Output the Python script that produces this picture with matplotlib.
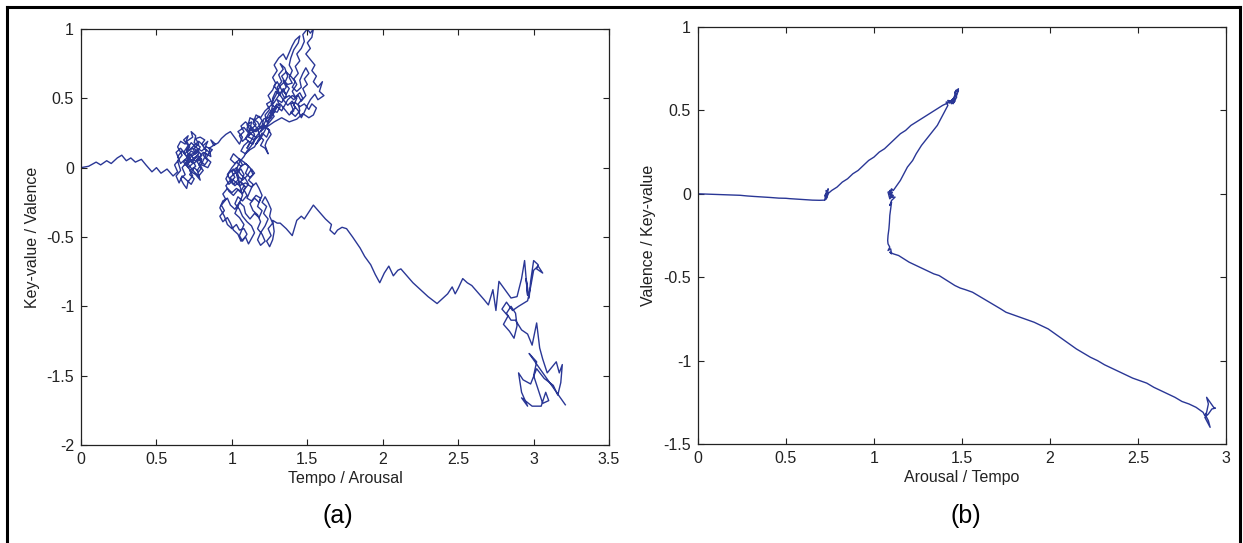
import matplotlib.pyplot as plt
from matplotlib.lines import Line2D

plt.rcParams['font.family'] = ['Liberation Sans', 'DejaVu Sans']

LINE_COLOR = '#2a3796'

# ---- panel (a): tempo / arousal vs key-value / valence
walk_a_start = [(0.00, 0.00), (0.05, 0.01), (0.10, 0.04), (0.13, 0.02), (0.17, 0.05), (0.20, 0.03),
                (0.24, 0.07), (0.27, 0.09), (0.30, 0.05), (0.33, 0.07), (0.36, 0.04), (0.40, 0.06),
                (0.43, 0.02), (0.47, -0.03), (0.50, 0.00), (0.53, -0.04), (0.57, -0.01), (0.61, -0.06),
                (0.64, -0.03)]
walk_a_cluster1 = [(0.62, 0.02), (0.65, 0.06), (0.63, 0.11), (0.66, 0.14), (0.69, 0.10), (0.72, 0.15),
                   (0.70, 0.19), (0.74, 0.22), (0.73, 0.26), (0.76, 0.23), (0.75, 0.18), (0.79, 0.15),
                   (0.77, 0.11), (0.73, 0.08), (0.70, 0.04), (0.67, 0.00), (0.69, -0.05), (0.66, -0.08),
                   (0.68, -0.12), (0.70, -0.15), (0.71, -0.10), (0.74, -0.06), (0.72, -0.02), (0.76, 0.01),
                   (0.74, 0.05), (0.77, 0.09), (0.80, 0.06), (0.78, 0.02), (0.81, -0.02), (0.78, -0.06),
                   (0.75, -0.03), (0.72, 0.01), (0.69, 0.06), (0.66, 0.03), (0.64, 0.08), (0.67, 0.12),
                   (0.70, 0.08), (0.73, 0.12), (0.76, 0.10), (0.74, 0.14), (0.71, 0.12), (0.75, 0.16),
                   (0.78, 0.19), (0.81, 0.16), (0.84, 0.19), (0.82, 0.14), (0.85, 0.11), (0.83, 0.07),
                   (0.86, 0.04), (0.84, 0.00), (0.80, 0.02), (0.79, 0.08), (0.76, 0.05), (0.72, 0.06),
                   (0.70, 0.13), (0.73, 0.18), (0.77, 0.14), (0.80, 0.12), (0.83, 0.15), (0.87, 0.13)]
walk_a_cluster1b = [(0.84, 0.09), (0.81, 0.11), (0.78, 0.07), (0.75, 0.03), (0.72, 0.05), (0.69, 0.02),
                    (0.71, 0.07), (0.68, 0.11), (0.71, 0.16), (0.68, 0.20), (0.71, 0.23), (0.69, 0.17),
                    (0.66, 0.19), (0.64, 0.15), (0.67, 0.09), (0.64, 0.05), (0.66, -0.02), (0.63, -0.06),
                    (0.65, -0.11), (0.67, -0.06), (0.70, -0.09), (0.73, -0.12), (0.75, -0.08), (0.72, -0.05),
                    (0.75, 0.00), (0.78, -0.03), (0.80, 0.00), (0.77, 0.04), (0.80, 0.09), (0.77, 0.13),
                    (0.74, 0.10), (0.71, 0.09), (0.74, 0.03), (0.71, 0.00), (0.68, 0.04), (0.72, 0.10),
                    (0.75, 0.06), (0.78, 0.10), (0.75, 0.14), (0.78, 0.17), (0.76, 0.21), (0.79, 0.22),
                    (0.82, 0.20), (0.80, 0.17), (0.83, 0.12), (0.81, 0.09), (0.84, 0.05), (0.82, 0.02),
                    (0.79, 0.05), (0.76, 0.08), (0.73, 0.05), (0.70, 0.02), (0.73, -0.03), (0.76, -0.05),
                    (0.79, -0.09), (0.77, -0.02), (0.80, 0.03), (0.83, 0.10), (0.86, 0.08), (0.85, 0.14),
                    (0.89, 0.17), (0.86, 0.20), (0.88, 0.16), (0.91, 0.18), (0.93, 0.21), (0.96, 0.24),
                    (0.99, 0.26), (1.01, 0.23), (1.03, 0.20)]
walk_a_cluster2 = [(1.05, 0.17), (1.07, 0.22), (1.04, 0.26), (1.08, 0.29), (1.11, 0.25), (1.09, 0.21),
                   (1.12, 0.18), (1.10, 0.14), (1.13, 0.20), (1.15, 0.24), (1.13, 0.28), (1.16, 0.31),
                   (1.14, 0.35), (1.17, 0.33), (1.19, 0.29), (1.16, 0.26), (1.12, 0.27), (1.10, 0.31),
                   (1.13, 0.33), (1.11, 0.22), (1.15, 0.20), (1.18, 0.23), (1.21, 0.20), (1.19, 0.16),
                   (1.22, 0.14), (1.24, 0.10), (1.22, 0.16), (1.23, 0.19), (1.26, 0.24), (1.24, 0.28),
                   (1.21, 0.31), (1.19, 0.26), (1.22, 0.29), (1.25, 0.27), (1.23, 0.22), (1.20, 0.25),
                   (1.17, 0.19), (1.15, 0.15), (1.12, 0.13), (1.09, 0.10), (1.06, 0.12), (1.08, 0.16),
                   (1.11, 0.19), (1.14, 0.17), (1.16, 0.22), (1.13, 0.24), (1.10, 0.28), (1.12, 0.36),
                   (1.15, 0.34), (1.18, 0.37), (1.20, 0.34), (1.18, 0.30), (1.15, 0.27), (1.12, 0.30),
                   (1.09, 0.33), (1.06, 0.30), (1.08, 0.26), (1.05, 0.23), (1.07, 0.19), (1.10, 0.22),
                   (1.14, 0.26), (1.18, 0.28), (1.21, 0.31), (1.23, 0.35), (1.26, 0.38), (1.28, 0.42),
                   (1.30, 0.46)]
walk_a_band = [(1.28, 0.43), (1.25, 0.40), (1.23, 0.36), (1.21, 0.35), (1.20, 0.30), (1.23, 0.30),
               (1.25, 0.33), (1.28, 0.37), (1.26, 0.41), (1.30, 0.40), (1.32, 0.44), (1.30, 0.49),
               (1.33, 0.47), (1.36, 0.52), (1.34, 0.57), (1.31, 0.52), (1.28, 0.47), (1.25, 0.44),
               (1.22, 0.41), (1.19, 0.36), (1.16, 0.38), (1.14, 0.32), (1.17, 0.28), (1.19, 0.21),
               (1.16, 0.17), (1.19, 0.21), (1.22, 0.27), (1.25, 0.36), (1.27, 0.45)]
walk_a_cluster4 = [(1.27, 0.50), (1.29, 0.55), (1.32, 0.52), (1.30, 0.58), (1.33, 0.62), (1.31, 0.67),
                   (1.34, 0.71), (1.32, 0.75), (1.35, 0.72), (1.37, 0.66), (1.35, 0.61), (1.38, 0.57),
                   (1.36, 0.53), (1.33, 0.56), (1.30, 0.62), (1.28, 0.59), (1.31, 0.54), (1.34, 0.49),
                   (1.37, 0.45), (1.40, 0.48), (1.42, 0.43), (1.39, 0.40), (1.42, 0.37), (1.45, 0.41),
                   (1.44, 0.46), (1.47, 0.50), (1.45, 0.54), (1.42, 0.51), (1.40, 0.55), (1.43, 0.60),
                   (1.41, 0.64), (1.44, 0.68), (1.42, 0.73), (1.45, 0.77), (1.43, 0.82), (1.46, 0.86),
                   (1.48, 0.91), (1.47, 0.96), (1.50, 1.00), (1.52, 0.97), (1.54, 1.00), (1.53, 0.94),
                   (1.50, 0.90), (1.52, 0.86), (1.49, 0.82), (1.52, 0.78), (1.55, 0.74), (1.53, 0.70),
                   (1.56, 0.66), (1.54, 0.62), (1.57, 0.58), (1.60, 0.62), (1.58, 0.55), (1.61, 0.52),
                   (1.57, 0.49), (1.55, 0.53), (1.52, 0.49), (1.50, 0.45), (1.48, 0.40), (1.46, 0.36),
                   (1.44, 0.41), (1.41, 0.45), (1.43, 0.50), (1.40, 0.52), (1.37, 0.49), (1.35, 0.45),
                   (1.33, 0.41), (1.30, 0.44), (1.28, 0.40), (1.26, 0.36), (1.23, 0.33)]
walk_a_cluster4b = [(1.22, 0.38), (1.25, 0.42), (1.23, 0.46), (1.26, 0.48), (1.24, 0.52), (1.27, 0.56),
                    (1.29, 0.61), (1.27, 0.65), (1.30, 0.70), (1.28, 0.74), (1.31, 0.79), (1.34, 0.82),
                    (1.36, 0.78), (1.38, 0.83), (1.40, 0.88), (1.42, 0.92), (1.45, 0.95), (1.44, 0.90),
                    (1.41, 0.85), (1.39, 0.79), (1.38, 0.74), (1.40, 0.70), (1.38, 0.65), (1.40, 0.61),
                    (1.37, 0.60), (1.34, 0.63), (1.36, 0.58), (1.33, 0.54), (1.35, 0.50), (1.38, 0.52),
                    (1.41, 0.49), (1.44, 0.52), (1.46, 0.48), (1.49, 0.52), (1.47, 0.57), (1.50, 0.60),
                    (1.48, 0.64), (1.51, 0.68), (1.49, 0.72), (1.47, 0.68), (1.45, 0.63), (1.46, 0.58),
                    (1.43, 0.55), (1.40, 0.58), (1.42, 0.62), (1.39, 0.66), (1.36, 0.69), (1.33, 0.66),
                    (1.35, 0.62), (1.32, 0.59), (1.29, 0.52), (1.26, 0.46), (1.29, 0.43), (1.32, 0.46),
                    (1.35, 0.42), (1.38, 0.38), (1.41, 0.41), (1.39, 0.46), (1.42, 0.47), (1.45, 0.44),
                    (1.48, 0.46), (1.51, 0.42), (1.53, 0.46), (1.56, 0.43), (1.54, 0.38), (1.51, 0.36),
                    (1.47, 0.39), (1.43, 0.35), (1.38, 0.33), (1.33, 0.36), (1.28, 0.33), (1.24, 0.30),
                    (1.21, 0.29), (1.18, 0.25), (1.15, 0.21), (1.13, 0.16), (1.10, 0.12), (1.08, 0.08),
                    (1.05, 0.04)]
walk_a_cluster3 = [(1.02, -0.04), (0.99, -0.07), (1.01, -0.12), (1.04, -0.09), (1.03, -0.04), (1.06, -0.01),
                   (1.08, -0.05), (1.06, -0.10), (1.09, -0.14), (1.07, -0.19), (1.04, -0.16), (1.01, -0.20),
                   (0.98, -0.17), (0.96, -0.13), (0.99, -0.09), (0.97, -0.05), (1.00, 0.00), (1.03, 0.04),
                   (1.06, 0.01), (1.09, 0.03), (1.12, 0.00), (1.14, -0.05), (1.11, -0.09), (1.14, -0.12),
                   (1.12, -0.17), (1.10, -0.22), (1.13, -0.24), (1.16, -0.20), (1.19, -0.22), (1.17, -0.28),
                   (1.20, -0.31), (1.18, -0.36), (1.15, -0.33), (1.12, -0.37), (1.09, -0.33), (1.08, -0.28),
                   (1.05, -0.25), (1.02, -0.30), (0.99, -0.27), (0.97, -0.22), (0.94, -0.24), (0.92, -0.29),
                   (0.95, -0.35), (0.97, -0.41), (1.00, -0.44), (1.03, -0.41), (1.05, -0.45), (1.08, -0.44),
                   (1.10, -0.48), (1.07, -0.53), (1.05, -0.49), (1.08, -0.41), (1.05, -0.36), (1.02, -0.33),
                   (1.04, -0.28), (1.07, -0.20), (1.05, -0.12), (1.04, -0.05), (1.03, 0.00), (1.00, -0.03),
                   (1.02, -0.07), (0.99, -0.10), (1.02, -0.13), (1.05, -0.10),
                   (1.08, -0.13), (1.06, -0.17), (1.03, -0.15), (1.00, -0.18), (0.97, -0.15), (0.94, -0.19),
                   (0.96, -0.23), (0.93, -0.27), (0.95, -0.31), (0.92, -0.35), (0.94, -0.39), (0.97, -0.36),
                   (0.99, -0.40), (1.01, -0.45), (1.04, -0.48), (1.06, -0.53), (1.09, -0.50), (1.11, -0.55),
                   (1.13, -0.51), (1.15, -0.47), (1.13, -0.42), (1.10, -0.39), (1.07, -0.35), (1.05, -0.30),
                   (1.02, -0.26), (1.04, -0.21), (1.07, -0.24), (1.10, -0.20), (1.08, -0.16), (1.11, -0.12),
                   (1.09, -0.08), (1.06, -0.05), (1.04, -0.02), (1.07, 0.02), (1.05, 0.06), (1.02, 0.03),
                   (0.99, 0.06), (1.01, 0.10), (1.04, 0.07), (1.08, 0.04), (1.11, 0.01), (1.09, -0.04),
                   (1.12, -0.07), (1.15, -0.04), (1.13, -0.01), (1.10, -0.06), (1.07, -0.09), (1.04, -0.06),
                   (1.01, -0.01), (0.98, -0.04), (0.96, -0.08), (0.98, -0.12), (1.01, -0.09), (1.05, -0.13),
                   (1.09, -0.11), (1.13, -0.14), (1.16, -0.11), (1.18, -0.15), (1.20, -0.20), (1.18, -0.25),
                   (1.15, -0.22), (1.12, -0.26), (1.14, -0.31), (1.17, -0.34), (1.19, -0.39), (1.17, -0.44),
                   (1.20, -0.48), (1.22, -0.53), (1.19, -0.56), (1.17, -0.52), (1.19, -0.47), (1.22, -0.42),
                   (1.24, -0.37), (1.21, -0.33), (1.23, -0.28), (1.20, -0.25), (1.22, -0.21), (1.24, -0.25),
                   (1.26, -0.30), (1.25, -0.35), (1.27, -0.40), (1.24, -0.44), (1.26, -0.49), (1.23, -0.53),
                   (1.25, -0.57), (1.27, -0.52), (1.28, -0.46), (1.27, -0.38), (1.30, -0.40)]
walk_a_tail = [(1.32, -0.40), (1.36, -0.44), (1.40, -0.49), (1.43, -0.38), (1.46, -0.35), (1.48, -0.37),
               (1.54, -0.27), (1.58, -0.32), (1.62, -0.37), (1.66, -0.41), (1.65, -0.45), (1.68, -0.48),
               (1.70, -0.45), (1.73, -0.43), (1.76, -0.44), (1.80, -0.50), (1.85, -0.58), (1.88, -0.64),
               (1.92, -0.70), (1.95, -0.77), (1.98, -0.83), (2.01, -0.76), (2.04, -0.71), (2.07, -0.78),
               (2.10, -0.74), (2.12, -0.73), (2.16, -0.78), (2.20, -0.83), (2.25, -0.88), (2.30, -0.93),
               (2.36, -0.98), (2.40, -0.94), (2.43, -0.91), (2.46, -0.86), (2.48, -0.91), (2.50, -0.87),
               (2.53, -0.80), (2.56, -0.83), (2.59, -0.85), (2.63, -0.90), (2.67, -0.95), (2.70, -0.99),
               (2.73, -0.88), (2.75, -1.03), (2.77, -0.82), (2.81, -0.88), (2.85, -0.94), (2.89, -0.93),
               (2.92, -0.80), (2.94, -0.67), (2.96, -0.92), (2.95, -0.80), (2.97, -0.94), (2.98, -0.82),
               (3.00, -0.67), (3.03, -0.70), (3.02, -0.73), (3.06, -0.76), (3.03, -0.71), (3.00, -0.74),
               (2.98, -0.86), (2.96, -0.96)]
walk_a_end = [(2.90, -1.00), (2.86, -1.03), (2.82, -0.97), (2.79, -1.02), (2.83, -1.07), (2.80, -1.13),
              (2.84, -1.18), (2.87, -1.23), (2.89, -1.14), (2.88, -1.05), (2.85, -1.00), (2.82, -1.05),
              (2.85, -1.10), (2.88, -1.10), (2.92, -1.17), (2.96, -1.20), (2.99, -1.28), (3.02, -1.12),
              (3.04, -1.30), (3.06, -1.38), (3.09, -1.48), (3.12, -1.44), (3.15, -1.40), (3.17, -1.48),
              (3.19, -1.42), (3.18, -1.55), (3.16, -1.64), (3.13, -1.57), (3.07, -1.52), (3.02, -1.45),
              (2.98, -1.56), (2.93, -1.53), (2.90, -1.48), (2.92, -1.62), (2.96, -1.72), (2.92, -1.66),
              (2.99, -1.72), (3.05, -1.72), (3.08, -1.62), (3.10, -1.68), (3.06, -1.70), (3.03, -1.60),
              (3.00, -1.50), (3.02, -1.40), (2.97, -1.34), (3.21, -1.71)]

# ---- panel (b): arousal / tempo vs valence / key-value
walk_b_start = [(0.00, 0.000), (0.05, -0.002), (0.10, -0.004), (0.15, -0.006), (0.20, -0.008),
                (0.24, -0.009), (0.28, -0.013), (0.32, -0.016), (0.37, -0.019), (0.41, -0.022),
                (0.46, -0.026), (0.50, -0.027), (0.52, -0.029), (0.55, -0.031), (0.60, -0.034),
                (0.65, -0.038), (0.69, -0.039), (0.72, -0.038)]
walk_b_knot1 = [(0.73, -0.030), (0.72, -0.010), (0.735, 0.010), (0.725, -0.020), (0.74, 0.030),
                (0.73, 0.000), (0.72, -0.035), (0.735, -0.015), (0.74, 0.010), (0.728, 0.02),
                (0.732, -0.025), (0.738, 0.0)]
walk_b_rise = [(0.76, 0.02), (0.79, 0.04), (0.82, 0.07), (0.85, 0.09), (0.88, 0.12), (0.91, 0.14),
               (0.94, 0.17), (0.97, 0.20), (1.00, 0.22), (1.03, 0.25), (1.06, 0.27), (1.09, 0.30),
               (1.12, 0.33), (1.15, 0.36), (1.18, 0.38), (1.21, 0.41), (1.24, 0.43), (1.27, 0.45),
               (1.30, 0.47), (1.33, 0.49), (1.36, 0.51), (1.39, 0.53), (1.42, 0.545)]
walk_b_knot2 = [(1.44, 0.55), (1.42, 0.56), (1.45, 0.54), (1.47, 0.58), (1.46, 0.61), (1.48, 0.63),
                (1.47, 0.60), (1.45, 0.57), (1.43, 0.545), (1.46, 0.555), (1.44, 0.54), (1.45, 0.56),
                (1.43, 0.55), (1.46, 0.57), (1.44, 0.56), (1.47, 0.59), (1.48, 0.62), (1.465, 0.62),
                (1.45, 0.55), (1.41, 0.55)]
walk_b_fall = [(1.42, 0.53), (1.40, 0.49), (1.38, 0.45), (1.36, 0.41), (1.33, 0.37), (1.30, 0.33),
               (1.27, 0.29), (1.24, 0.24), (1.22, 0.20), (1.19, 0.16), (1.17, 0.12), (1.15, 0.08),
               (1.13, 0.05), (1.11, 0.02)]
walk_b_knot3 = [(1.10, 0.03), (1.09, 0.00), (1.11, -0.01), (1.09, -0.03), (1.08, 0.01), (1.10, 0.02),
                (1.09, 0.02), (1.10, -0.01), (1.085, 0.00), (1.105, 0.01), (1.09, -0.02),
                (1.12, -0.02), (1.10, -0.04), (1.09, -0.07), (1.10, -0.05), (1.095, -0.09),
                (1.09, -0.13), (1.088, -0.17), (1.085, -0.21), (1.08, -0.25), (1.078, -0.28),
                (1.08, -0.30), (1.09, -0.32), (1.08, -0.34), (1.095, -0.33), (1.10, -0.36), (1.09, -0.35)]
walk_b_tail = [(1.11, -0.36), (1.14, -0.37), (1.17, -0.39), (1.20, -0.41), (1.23, -0.425), (1.26, -0.44),
               (1.30, -0.46), (1.34, -0.48), (1.37, -0.49), (1.40, -0.51), (1.43, -0.53), (1.46, -0.55),
               (1.49, -0.565), (1.52, -0.575), (1.56, -0.59), (1.60, -0.615), (1.64, -0.64),
               (1.68, -0.665), (1.72, -0.69), (1.75, -0.71), (1.79, -0.725), (1.83, -0.74),
               (1.87, -0.755), (1.91, -0.77), (1.95, -0.79), (1.99, -0.81), (2.03, -0.84), (2.07, -0.87),
               (2.11, -0.90), (2.15, -0.93), (2.19, -0.955), (2.23, -0.98), (2.27, -1.00), (2.31, -1.025),
               (2.35, -1.045), (2.39, -1.065), (2.43, -1.085), (2.47, -1.105), (2.51, -1.12),
               (2.55, -1.135), (2.59, -1.16), (2.63, -1.18), (2.67, -1.20), (2.71, -1.22),
               (2.75, -1.245), (2.79, -1.26), (2.83, -1.28), (2.87, -1.31)]
walk_b_knot4 = [(2.88, -1.33), (2.89, -1.31), (2.90, -1.26), (2.89, -1.22), (2.91, -1.25), (2.93, -1.28),
                (2.94, -1.285), (2.92, -1.29), (2.90, -1.32), (2.88, -1.34), (2.895, -1.37),
                (2.91, -1.40), (2.90, -1.36), (2.885, -1.33), (2.89, -1.32), (2.88, -1.325)]

walk_a = (walk_a_start + walk_a_cluster1 + walk_a_cluster1b + walk_a_cluster2 + walk_a_band
          + walk_a_cluster4 + walk_a_cluster4b + walk_a_cluster3 + walk_a_tail + walk_a_end)
walk_b = (walk_b_start + walk_b_knot1 + walk_b_rise + walk_b_knot2
          + walk_b_fall + walk_b_knot3 + walk_b_tail + walk_b_knot4)

xticks_a = [0, 0.5, 1, 1.5, 2, 2.5, 3, 3.5]
yticks_a = [-2, -1.5, -1, -0.5, 0, 0.5, 1]
xticks_b = [0, 0.5, 1, 1.5, 2, 2.5, 3]
yticks_b = [-1.5, -1, -0.5, 0, 0.5, 1]


def style_axes(ax, xticks, yticks):
    ax.set_xlim(xticks[0], xticks[-1])
    ax.set_ylim(yticks[0], yticks[-1])
    ax.set_xticks(xticks)
    ax.set_yticks(yticks)
    ax.set_xticklabels(['%g' % v for v in xticks])
    ax.set_yticklabels(['%g' % v for v in yticks])
    ax.tick_params(direction='in', length=4, width=0.8, top=True, right=True,
                   labelsize=11.5, colors='#222222', pad=5)
    for s in ax.spines.values():
        s.set_linewidth(0.9)
        s.set_color('#222222')


fig = plt.figure(figsize=(12.43, 5.43), dpi=100)

ax_a = fig.add_axes([0.0652, 0.1805, 0.4248, 0.7661])
ax_a.plot([p[0] for p in walk_a], [p[1] for p in walk_a], color=LINE_COLOR, lw=1.0)
style_axes(ax_a, xticks_a, yticks_a)
ax_a.set_xlabel('Tempo / Arousal', fontsize=11.5, color='#222222', labelpad=3)
ax_a.set_ylabel('Key-value / Valence', fontsize=11.5, color='#222222', labelpad=5)

ax_b = fig.add_axes([0.5615, 0.1823, 0.4248, 0.768])
ax_b.plot([p[0] for p in walk_b], [p[1] for p in walk_b], color=LINE_COLOR, lw=1.0)
style_axes(ax_b, xticks_b, yticks_b)
ax_b.set_xlabel('Arousal / Tempo', fontsize=11.5, color='#222222', labelpad=3)
ax_b.set_ylabel('Valence / Key-value', fontsize=11.5, color='#222222', labelpad=5)

fig.text(338 / 1243, 1 - 516 / 543, '(a)', fontsize=18, ha='center', va='center')
fig.text(966 / 1243, 1 - 516 / 543, '(b)', fontsize=18, ha='center', va='center')

# outer frame of the figure
x_l, x_r, y_t = 6.5 / 1243, 1239.5 / 1243, 1 - 6.5 / 543
for xs, ys in [([x_l, x_r], [y_t, y_t]), ([x_l, x_l], [-0.01, y_t]), ([x_r, x_r], [-0.01, y_t])]:
    fig.add_artist(Line2D(xs, ys, color='black', lw=2.2, transform=fig.transFigure))

fig.savefig('out.png', dpi=100)
